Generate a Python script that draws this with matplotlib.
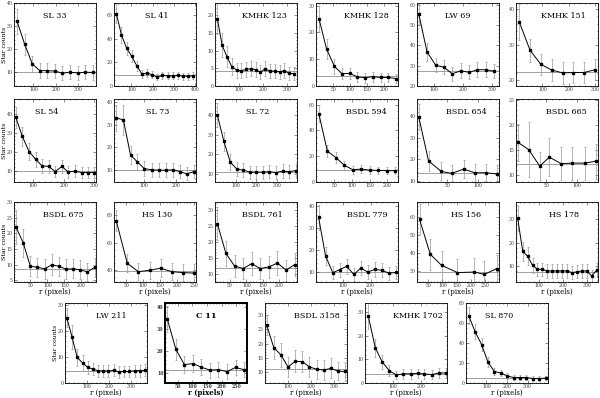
import matplotlib
matplotlib.use('Agg')
import matplotlib.pyplot as plt
from matplotlib.ticker import AutoMinorLocator

plt.rcParams['font.family'] = ['DejaVu Serif']

# cluster names, row by row
names = ['SL 33', 'SL 41', 'KMHK 123', 'KMHK 128', 'LW 69', 'KMHK 151',
         'SL 54', 'SL 73', 'SL 72', 'BSDL 594', 'BSDL 654', 'BSDL 665',
         'BSDL 675', 'HS 130', 'BSDL 761', 'BSDL 779', 'HS 156', 'HS 178',
         'LW 211', 'C 11', 'BSDL 3158', 'KMHK 1702', 'SL 870']

# radial profiles: r (pixels), star counts, error
sl33_r = [27, 61, 95, 129, 163, 197, 231, 265, 299, 333, 367]
sl33_n = [32, 22, 13.5, 10.5, 10.5, 10.3, 9.4, 9.8, 9.5, 9.8, 9.7]
sl33_e = [5.5, 4.5, 3.5, 3.2, 3.2, 3.2, 3.0, 3.1, 3.0, 3.1, 3.1]

sl41_r = [30, 54, 78, 102, 126, 150, 174, 198, 222, 246, 270, 294, 318, 342, 366, 390]
sl41_n = [61, 43, 32, 25, 17, 10, 11, 9.5, 7.5, 9, 8.5, 8.5, 9, 8.3, 8.3, 8.7]
sl41_e = [8, 6.5, 5.5, 5, 4, 3.2, 3.3, 3.1, 2.7, 3, 2.9, 2.9, 3, 2.9, 2.9, 2.9]

kmhk123_r = [10, 30, 50, 70, 90, 110, 130, 150, 170, 190, 210, 230, 250, 270, 290, 310, 330]
kmhk123_n = [19, 11.5, 8.3, 5.5, 4.5, 4.3, 4.7, 4.9, 4.6, 3.9, 4.9, 4.2, 4.2, 4.0, 4.3, 3.6, 3.5]
kmhk123_e = [4.4, 3.4, 2.9, 2.3, 2.1, 2.1, 2.2, 2.2, 2.1, 2.0, 2.2, 2.0, 2.0, 2.0, 2.1, 1.9, 1.9]

kmhk128_r = [9, 31, 54, 76, 99, 121, 144, 166, 189, 211, 234]
kmhk128_n = [25, 13.8, 7.3, 4.6, 4.7, 3.4, 3.1, 3.5, 3.2, 3.2, 2.8]
kmhk128_e = [5, 3.7, 2.7, 2.1, 2.2, 1.8, 1.8, 1.9, 1.8, 1.8, 1.7]

lw69_r = [46, 75, 105, 134, 163, 193, 222, 251, 280, 310]
lw69_n = [55.5, 36.8, 30.2, 29.2, 26, 27.5, 26.7, 28, 28, 27.2]
lw69_e = [5, 4.5, 3.4, 3.5, 3.5, 3.6, 3.5, 3.6, 3.6, 3.5]

kmhk151_r = [12, 53, 94, 135, 176, 217, 258, 299]
kmhk151_n = [36.5, 28.5, 24.5, 22.9, 22.1, 22.2, 22.2, 23]
kmhk151_e = [5, 3.2, 3, 3, 3, 3, 3, 3]

sl54_r = [45, 66, 88, 109, 130, 151, 173, 194, 215, 236, 258, 279, 300]
sl54_n = [38, 28, 20, 16, 12.5, 12.2, 9.5, 12.2, 9.3, 9.7, 9, 9, 9]
sl54_e = [5.5, 5, 4.3, 4, 3.5, 3.5, 3.1, 3.5, 3, 3.1, 3, 3, 3]

sl73_r = [15, 37, 59, 80, 102, 124, 146, 168, 189, 211, 233, 255]
sl73_n = [33, 32, 16.5, 13.5, 10.5, 10, 9.8, 9.8, 10, 9.2, 8.2, 9.2]
sl73_e = [5.7, 6.5, 4, 3.7, 3.2, 3.2, 3.1, 3.1, 3.2, 3, 2.9, 3]

sl72_r = [11, 43, 74, 106, 137, 169, 200, 232, 263, 295, 326, 358, 389]
sl72_n = [40, 26.5, 16, 12.5, 12, 11, 11, 11, 11.2, 10.8, 11.5, 11.2, 11.8]
sl72_e = [6, 5, 4, 3.5, 3.4, 3.3, 3.3, 3.3, 3.3, 3.3, 3.4, 3.3, 3.4]

bsdl594_r = [6, 30, 54, 78, 102, 126, 150, 174, 198, 222]
bsdl594_n = [53, 24, 19, 13, 9.5, 10, 9.2, 9, 8.8, 8.8]
bsdl594_e = [6.5, 4.5, 4.2, 3.5, 3, 3.1, 3, 3, 2.9, 2.9]

bsdl654_r = [3, 19, 40, 57, 77, 95, 114, 132]
bsdl654_n = [39.5, 19.2, 14.3, 13.4, 15.4, 13.7, 13.7, 13.1]
bsdl654_e = [6, 4.5, 4.2, 4, 4.3, 4, 4, 4]

bsdl665_r = [3, 21, 39, 55, 74, 93, 113, 132]
bsdl665_n = [16.5, 15, 11.7, 13.5, 12.2, 12.3, 12.3, 12.7]
bsdl665_e = [3.7, 5.5, 2.8, 3.8, 3.3, 3.3, 3.3, 3.5]

bsdl675_r = [8, 29, 50, 71, 92, 113, 134, 155, 176, 197, 218, 239]
bsdl675_n = [22, 17, 9.5, 9.2, 8.7, 10, 9.5, 8.6, 8.7, 8.4, 7.7, 9.2]
bsdl675_e = [5.3, 4.5, 3.2, 3, 3.2, 3.3, 3.1, 3.1, 3, 3, 2.9, 3]

hs130_r = [20, 53, 86, 119, 152, 185, 218, 251]
hs130_n = [76, 45, 39, 40, 41.5, 39, 38.3, 38]
hs130_e = [7.5, 6.5, 6.2, 6.3, 6.4, 6.2, 6.2, 6.2]

bsdl761_r = [12, 38, 64, 90, 116, 142, 168, 194, 220, 246]
bsdl761_n = [25.8, 16.5, 12.6, 11.8, 13.3, 11.8, 12.3, 13.5, 11.3, 13]
bsdl761_e = [5, 4, 3.5, 3.4, 3.6, 3.4, 3.5, 3.6, 3.3, 3.6]

bsdl779_r = [13, 38, 64, 89, 114, 140, 165, 190, 215, 241, 266, 291]
bsdl779_n = [34.7, 17.3, 9.7, 11.1, 12.6, 8.9, 11.8, 10, 11.2, 10.8, 9.5, 9.8]
bsdl779_e = [5.7, 4, 3, 3.2, 3.4, 3, 3.3, 3.1, 3.3, 3.2, 3, 3]

hs156_r = [19, 57, 97, 153, 213, 248, 292]
hs156_n = [58.7, 39.4, 33.3, 29.3, 29.6, 28.3, 31.5]
hs156_e = [8.3, 8.5, 8, 7.5, 7.5, 7.3, 7.5]

hs178_r = [12, 33, 53, 74, 94, 115, 135, 156, 176, 197, 217, 238, 258, 279, 299, 320, 340]
hs178_n = [30.4, 16.4, 14.3, 10.4, 8.7, 8.7, 8, 8, 8, 8, 8, 7.3, 7.6, 8, 8, 5.9, 8.3]
hs178_e = [5.5, 4, 3.8, 3.2, 2.9, 2.9, 2.8, 2.8, 2.8, 2.8, 2.8, 2.7, 2.8, 2.8, 2.8, 2.4, 2.9]

lw211_r = [8, 32, 55, 79, 102, 126, 149, 173, 196, 220, 243, 267, 290, 314, 337, 361]
lw211_n = [25, 17.5, 9.8, 7.7, 6, 5.3, 4.7, 4.6, 4.6, 4.8, 4.3, 4.4, 4.4, 4.7, 4.7, 4.8]
lw211_e = [3.5, 4.5, 3.3, 3, 2.6, 2.4, 2.3, 2.3, 2.3, 2.3, 2.2, 2.2, 2.2, 2.3, 2.3, 2.3]

c11_r = [15, 44, 73, 102, 131, 160, 189, 218, 247, 276]
c11_n = [34.6, 20.8, 13.8, 14.3, 12.6, 11.3, 11.5, 10.6, 12.5, 11.5]
c11_e = [6, 4.8, 3.8, 3.8, 3.6, 3.4, 3.4, 3.3, 3.6, 3.4]

bsdl3158_r = [7, 38, 69, 100, 131, 162, 193, 224, 255, 286, 317, 348]
bsdl3158_n = [26.6, 18.6, 16, 11.7, 13.7, 13.6, 11.7, 10.9, 10.6, 11.2, 10.2, 10.1]
bsdl3158_e = [3.5, 4.2, 4.2, 3.6, 3.9, 3.8, 3.6, 3.4, 3.4, 3.6, 3.3, 3.3]

kmhk1702_r = [12, 37, 62, 88, 113, 138, 164, 189, 214, 240, 265, 290]
kmhk1702_n = [28.3, 15, 8.9, 5.2, 3.4, 3.9, 3.9, 4.1, 3.8, 3.6, 4.2, 4.3]
kmhk1702_e = [5.5, 3.9, 3, 2.3, 1.8, 2, 2, 2, 2, 1.9, 2, 2.1]

sl870_r = [13, 44, 76, 107, 138, 170, 201, 232, 263, 295, 326, 357, 389]
sl870_n = [67.5, 51.5, 38.5, 21, 11.5, 10, 7, 5.5, 5.5, 5.5, 4.5, 4.5, 4.8]
sl870_e = [8.2, 7.2, 6.2, 4.6, 3.4, 3.2, 2.6, 2.3, 2.3, 2.3, 2.1, 2.1, 2.2]

# background (field) level per cluster
bg_levels = [10, 9, 4.2, 3.6, 27.5, 22.4,
             9.7, 9.8, 11, 9.2, 13.4, 12.2,
             8.6, 39.3, 11.9, 10, 29.8, 7.6,
             4.7, 11.5, 10.9, 3.9, 5.4]

profiles = [(sl33_r, sl33_n, sl33_e), (sl41_r, sl41_n, sl41_e),
            (kmhk123_r, kmhk123_n, kmhk123_e), (kmhk128_r, kmhk128_n, kmhk128_e),
            (lw69_r, lw69_n, lw69_e), (kmhk151_r, kmhk151_n, kmhk151_e),
            (sl54_r, sl54_n, sl54_e), (sl73_r, sl73_n, sl73_e),
            (sl72_r, sl72_n, sl72_e), (bsdl594_r, bsdl594_n, bsdl594_e),
            (bsdl654_r, bsdl654_n, bsdl654_e), (bsdl665_r, bsdl665_n, bsdl665_e),
            (bsdl675_r, bsdl675_n, bsdl675_e), (hs130_r, hs130_n, hs130_e),
            (bsdl761_r, bsdl761_n, bsdl761_e), (bsdl779_r, bsdl779_n, bsdl779_e),
            (hs156_r, hs156_n, hs156_e), (hs178_r, hs178_n, hs178_e),
            (lw211_r, lw211_n, lw211_e), (c11_r, c11_n, c11_e),
            (bsdl3158_r, bsdl3158_n, bsdl3158_e), (kmhk1702_r, kmhk1702_n, kmhk1702_e),
            (sl870_r, sl870_n, sl870_e)]

# axis ranges and ticks
xlims = [(13, 382), (19, 403), (0, 343), (0, 240), (40, 326), (0, 310),
         (39, 305), (8, 261), (0, 396), (-2, 230), (0, 135), (0, 135),
         (2, 243), (13.5, 257), (5, 253), (3.6, 299), (10, 300), (5, 346),
         (0, 370), (7, 286), (0, 356), (0, 295), (0, 400)]
ylims = [(3.8, 40), (0, 70), (0, 23.5), (0, 31), (20, 60.8), (18.4, 41.8),
         (4, 47.7), (4.6, 41.3), (6, 48), (0, 64.4), (9.4, 48), (8.5, 25.2),
         (4.5, 30), (31.5, 89.5), (7.6, 32.5), (5.5, 41.7), (24.1, 68.3), (3.3, 37.4),
         (0, 30.6), (5.4, 42), (6, 34.4), (0, 34), (0, 80)]
xticks = [[100, 200, 300], [100, 200, 300, 400], [100, 200, 300], [50, 100, 150, 200],
          [100, 200, 300], [100, 200, 300],
          [100, 200, 300], [100, 200], [100, 200, 300], [50, 100, 150, 200], [50, 100], [50, 100],
          [50, 100, 150, 200], [50, 100, 150, 200, 250], [50, 100, 150, 200], [100, 200],
          [50, 100, 150, 200, 250], [100, 200, 300],
          [100, 200, 300], [50, 100, 150, 200, 250], [100, 200, 300], [100, 200], [100, 200, 300]]
yticks = [[10, 20, 30, 40], [0, 20, 40, 60], [0, 5, 10, 15, 20], [0, 10, 20, 30],
          [20, 30, 40, 50, 60], [20, 30, 40],
          [10, 20, 30, 40], [10, 20, 30, 40], [10, 20, 30, 40], [0, 20, 40, 60],
          [10, 20, 30, 40], [10, 15, 20, 25],
          [5, 10, 15, 20, 25, 30], [40, 60, 80], [10, 15, 20, 25, 30], [10, 20, 30, 40],
          [30, 40, 50, 60], [10, 20, 30],
          [0, 10, 20, 30], [10, 20, 30, 40], [10, 15, 20, 25, 30], [0, 10, 20, 30],
          [0, 20, 40, 60, 80]]
title_x = [0.5, 0.52, 0.6, 0.62, 0.5, 0.58,
           0.4, 0.53, 0.52, 0.62, 0.6, 0.62,
           0.6, 0.53, 0.58, 0.62, 0.6, 0.58,
           0.57, 0.5, 0.63, 0.65, 0.4]

W, H = 600, 398
fig = plt.figure(figsize=(6, 3.98), dpi=100)

row_tops = [3, 99, 202, 303]
row_h = [83, 83, 80, 80]
lefts = [[14, 114, 215, 316, 417, 516]] * 3 + [[65, 165, 265, 365, 466]]
pw = 82

k = 0
for row in range(4):
    for col, left in enumerate(lefts[row]):
        ax = fig.add_axes([left / W, 1 - (row_tops[row] + row_h[row]) / H,
                           pw / W, row_h[row] / H])
        r, n, e = profiles[k]
        bold = names[k] == 'C 11'
        lw = 1.4 if bold else 0.6
        ax.axhline(bg_levels[k], color='#909090', lw=0.6, zorder=1)
        ax.errorbar(r, n, yerr=e, fmt='none', ecolor='#999999', elinewidth=0.5,
                    capsize=1.0, capthick=0.5, zorder=2)
        ax.plot(r, n, '-', color='black', lw=0.7, zorder=3)
        ax.plot(r, n, 's', color='black', ms=2.1, zorder=4)
        ax.set_xlim(*xlims[k])
        ax.set_ylim(*ylims[k])
        ax.set_xticks(xticks[k])
        ax.set_yticks(yticks[k])
        ax.xaxis.set_minor_locator(AutoMinorLocator())
        ax.yaxis.set_minor_locator(AutoMinorLocator())
        ax.tick_params(which='both', direction='in', top=True, right=True,
                       width=0.4, labelsize=3.3, pad=1.0, colors='#333333')
        ax.tick_params(which='major', length=2.0)
        ax.tick_params(which='minor', length=1.0)
        for s in ax.spines.values():
            s.set_linewidth(lw)
        if bold:
            for t in ax.get_xticklabels() + ax.get_yticklabels():
                t.set_fontweight('bold')
        ax.text(title_x[k], 0.84, names[k], transform=ax.transAxes, ha='center',
                va='center', fontsize=5.8, fontweight='bold' if bold else 'normal')
        if col == 0:
            ax.set_ylabel('Star counts', fontsize=4.5)
            ax.yaxis.set_label_coords(-0.085, 0.5)
        if row >= 2:
            ax.set_xlabel('r (pixels)', fontsize=5.0,
                          fontweight='bold' if bold else 'normal')
            ax.xaxis.set_label_coords(0.5, -0.075)
        k += 1

fig.savefig('out.png', dpi=100)
